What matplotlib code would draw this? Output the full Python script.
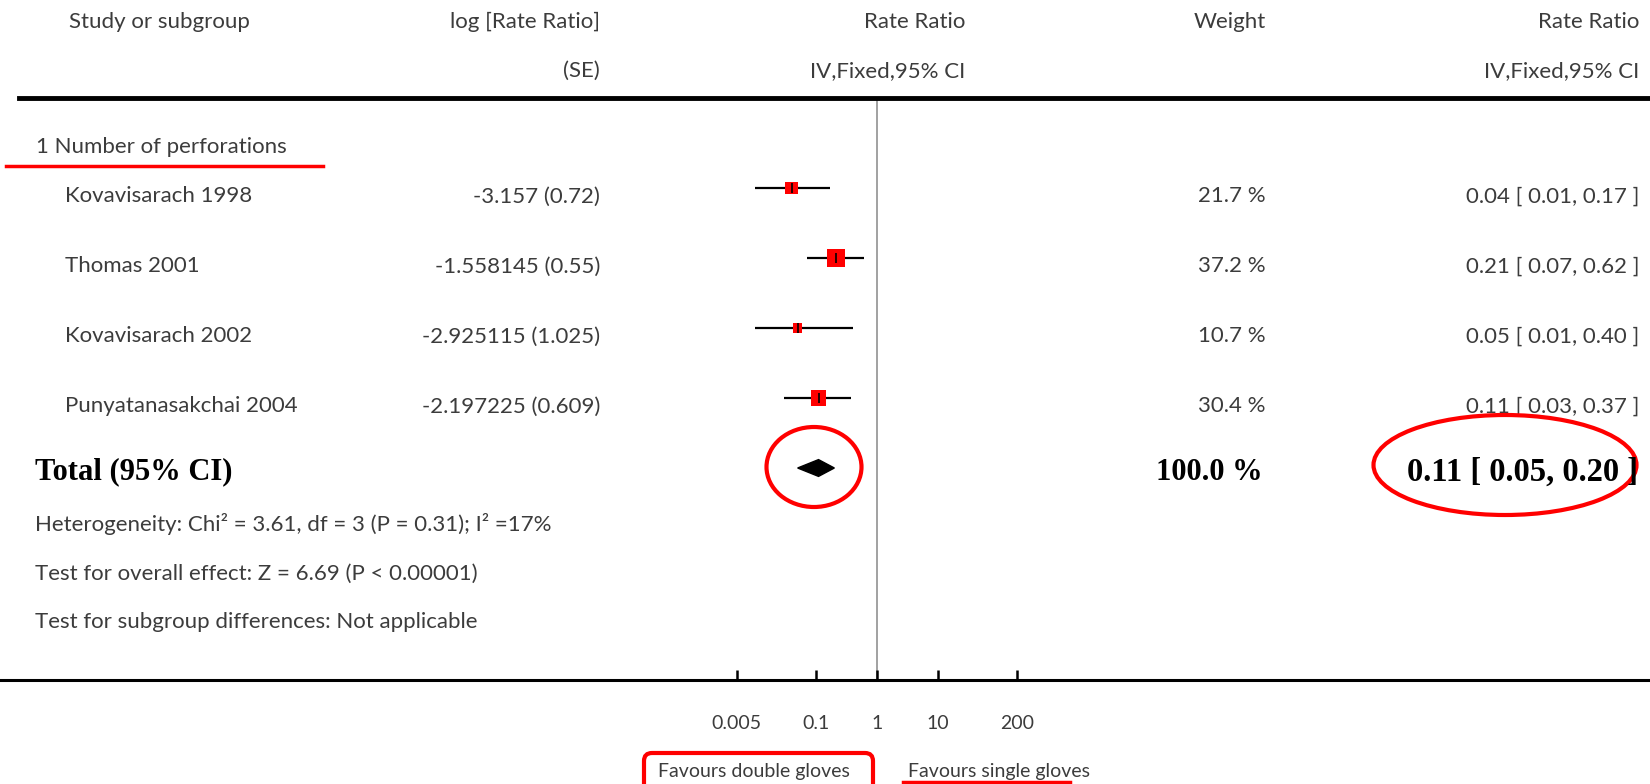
import numpy as np
import matplotlib
matplotlib.use("Agg")
import matplotlib.pyplot as plt
from matplotlib.lines import Line2D
from matplotlib.patches import Ellipse, FancyBboxPatch
from matplotlib.transforms import blended_transform_factory, IdentityTransform
from matplotlib.ticker import NullLocator

# data
studies = ["Kovavisarach 1998", "Thomas 2001", "Kovavisarach 2002", "Punyatanasakchai 2004"]
log_rr = ["-3.157 (0.72)", "-1.558145 (0.55)", "-2.925115 (1.025)", "-2.197225 (0.609)"]
rate_ratio = [0.04, 0.21, 0.05, 0.11]
ci_low = [0.01, 0.07, 0.01, 0.03]
ci_high = [0.17, 0.62, 0.40, 0.37]
weights = [21.7, 37.2, 10.7, 30.4]
total_rr, total_low, total_high = 0.11, 0.05, 0.20
tick_vals = [0.005, 0.1, 1, 10, 200]
tick_labels = ["0.005", "0.1", "1", "10", "200"]

W, H = 1650, 784
TXT = "#3c3c3c"
plt.rcParams['font.family'] = ['Lato', 'DejaVu Sans']

def fx(x):
    return x / W

def fy(y):
    return 1 - y / H

fig = plt.figure(figsize=(W / 100, H / 100), dpi=100)

# forest plot axes: 1 row = 70 px, 1 decade = 61 px, null line at x=877 px
ax = fig.add_axes([0, fy(680), 1, (680 - 98) / H])
ax.set_xscale('log')
ax.set_xlim(10 ** (-877 / 61), 10 ** ((W - 877) / 61))
ax.set_ylim((680 - 188) / 70, (98 - 188) / 70)
for s in ['top', 'left', 'right']:
    ax.spines[s].set_visible(False)
ax.spines['bottom'].set_linewidth(2.2)
ax.set_yticks([])
ax.set_xticks(tick_vals)
ax.set_xticklabels(tick_labels)
ax.xaxis.set_minor_locator(NullLocator())
ax.tick_params(axis='x', direction='in', length=7.5, width=1.8, pad=25,
               labelsize=14, labelcolor=TXT)
ax.patch.set_alpha(0)

ax.axvline(1, color='#9a9a9a', lw=1.3, zorder=1)

rows = np.arange(len(studies))
ax.hlines(rows, ci_low, ci_high, color='black', lw=1.6, zorder=2)
sides = [(6 + 0.32 * w) * 0.72 for w in weights]
ax.scatter(rate_ratio, rows, marker='s', s=[s ** 2 for s in sides], color='red',
           linewidths=0, zorder=3)
ax.scatter(rate_ratio, rows, marker='|', s=50, color='black', linewidths=1.2, zorder=4)

tot_row = 4
dh = 0.12
ax.fill([total_low, total_rr, total_high, total_rr],
        [tot_row, tot_row - dh, tot_row, tot_row + dh], color='black', zorder=3)

tr = blended_transform_factory(fig.transFigure, ax.transData)
fs = 16
for i, name in enumerate(studies):
    y = rows[i] + 0.12
    ax.text(fx(65), y, name, transform=tr, ha='left', va='center', fontsize=fs, color=TXT)
    ax.text(fx(600), y, log_rr[i], transform=tr, ha='right', va='center', fontsize=fs, color=TXT)
    ax.text(fx(1266), y, f"{weights[i]:.1f} %", transform=tr, ha='right', va='center',
            fontsize=fs, color=TXT)
    ax.text(fx(1639), y, f"{rate_ratio[i]:.2f} [ {ci_low[i]:.2f}, {ci_high[i]:.2f} ]",
            transform=tr, ha='right', va='center', fontsize=fs, color=TXT)

# header
fig.text(fx(69), fy(22), "Study or subgroup", ha='left', va='center', fontsize=fs, color=TXT)
fig.text(fx(600), fy(22), "log [Rate Ratio]", ha='right', va='center', fontsize=fs, color=TXT)
fig.text(fx(600), fy(71), "(SE)", ha='right', va='center', fontsize=fs, color=TXT)
fig.text(fx(965), fy(22), "Rate Ratio", ha='right', va='center', fontsize=fs, color=TXT)
fig.text(fx(965), fy(71), "IV,Fixed,95% CI", ha='right', va='center', fontsize=fs, color=TXT)
fig.text(fx(1266), fy(22), "Weight", ha='right', va='center', fontsize=fs, color=TXT)
fig.text(fx(1639), fy(22), "Rate Ratio", ha='right', va='center', fontsize=fs, color=TXT)
fig.text(fx(1639), fy(71), "IV,Fixed,95% CI", ha='right', va='center', fontsize=fs, color=TXT)
fig.add_artist(Line2D([fx(19), 1], [fy(98), fy(98)], transform=fig.transFigure,
                      color='black', lw=3.5))

fig.text(fx(36), fy(147), "1 Number of perforations", ha='left', va='center', fontsize=fs, color=TXT)

# totals
serif = dict(family='Liberation Serif', weight='bold', color='black')
fig.text(fx(35), fy(472), "Total (95% CI)", ha='left', va='center', fontsize=22, **serif)
fig.text(fx(1263), fy(472), f"{100.0:.1f} %", ha='right', va='center', fontsize=22, **serif)
fig.text(fx(1638), fy(472), f"{total_rr:.2f} [ {total_low:.2f}, {total_high:.2f} ]",
         ha='right', va='center', fontsize=23.5, **serif)

fig.text(fx(35), fy(524), "Heterogeneity: Chi² = 3.61, df = 3 (P = 0.31); I² =17%",
         ha='left', va='center', fontsize=fs, color=TXT)
fig.text(fx(35), fy(574), "Test for overall effect: Z = 6.69 (P < 0.00001)",
         ha='left', va='center', fontsize=fs, color=TXT)
fig.text(fx(35), fy(622), "Test for subgroup differences: Not applicable",
         ha='left', va='center', fontsize=fs, color=TXT)

fig.text(fx(754), fy(772), "Favours double gloves", ha='center', va='center', fontsize=14, color=TXT)
fig.text(fx(908), fy(772), "Favours single gloves", ha='left', va='center', fontsize=14, color=TXT)

# red highlight marks (pixel coordinates)
idt = IdentityTransform()
fig.add_artist(Ellipse((814, H - 467), 95, 80, transform=idt, fill=False, ec='red', lw=3))
fig.add_artist(Ellipse((1505, H - 465), 263, 100, transform=idt, fill=False, ec='red', lw=3))
fig.add_artist(FancyBboxPatch((644, H - 800), 229, 47, boxstyle='round,pad=0,rounding_size=8',
                              transform=idt, fill=False, ec='red', lw=3))
fig.add_artist(Line2D([6, 323], [H - 166, H - 166], transform=idt, color='red', lw=2.5))
fig.add_artist(Line2D([903, 1070], [H - 782, H - 782], transform=idt, color='red', lw=2.5))

fig.savefig("out.png", dpi=100)
